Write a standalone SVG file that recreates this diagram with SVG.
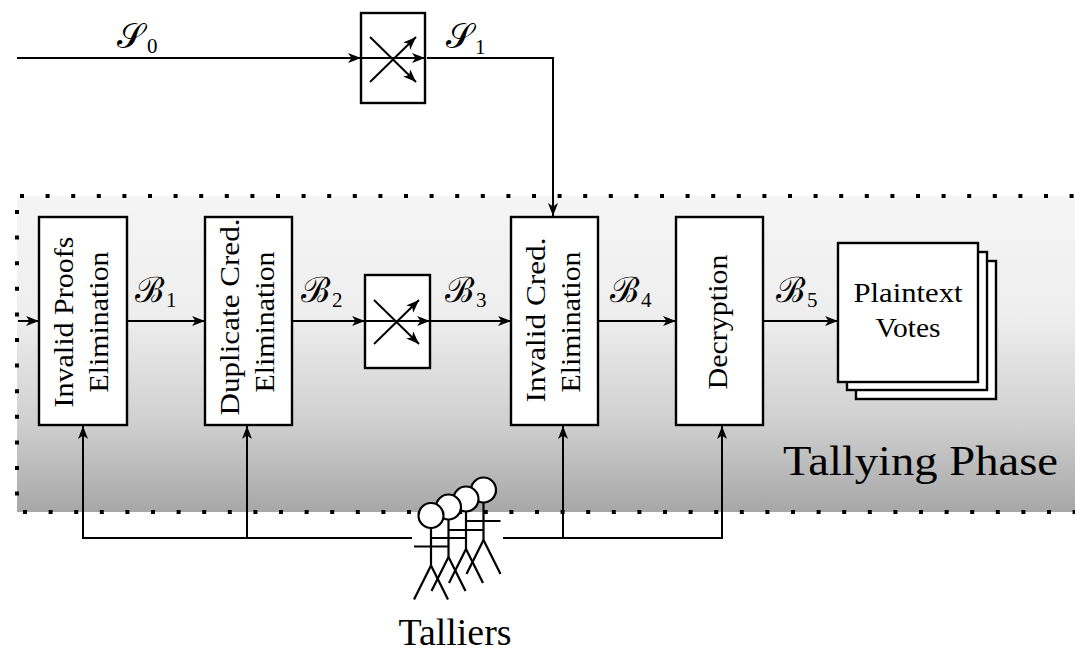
<svg xmlns="http://www.w3.org/2000/svg" width="1075" height="651" viewBox="0 0 1075 651">
  <defs>
    <linearGradient id="phaseShade" x1="0" y1="0" x2="0" y2="1">
      <stop offset="0" stop-color="#f5f5f5"/>
      <stop offset="0.38" stop-color="#eeeeee"/>
      <stop offset="0.72" stop-color="#cfcfcf"/>
      <stop offset="1" stop-color="#a7a7a7"/>
    </linearGradient>
    <marker id="arr" markerUnits="userSpaceOnUse" markerWidth="16" markerHeight="12" refX="13" refY="5" orient="auto">
      <path d="M0,0 L13,5 L0,10 L3.5,5 Z" fill="#000"/>
    </marker>
    <g id="talker">
      <line x1="0" y1="12" x2="0" y2="50"/>
      <line x1="-17" y1="31" x2="17" y2="31"/>
      <line x1="0" y1="50" x2="-17" y2="84"/>
      <line x1="0" y1="50" x2="17" y2="84"/>
      <circle cx="0" cy="0" r="12.5" fill="#fff"/>
    </g>
  </defs>
  <style>
    .box { fill: #fff; stroke: #000; stroke-width: 2.4; }
    .wire { fill: none; stroke: #000; stroke-width: 2; }
    .dots { stroke: #000; stroke-width: 4; stroke-dasharray: 4 21.6; fill: none; }
    .lbl { font-family: "Liberation Serif", "Times New Roman", serif; font-size: 28px; fill: #000; }
    .math { font-family: "DejaVu Serif", "Liberation Serif", serif; font-size: 35px; font-style: normal; fill: #000; }
    .sub { font-family: "Liberation Serif", serif; font-size: 21px; fill: #000; }
    .people { stroke: #000; stroke-width: 2.2; fill: none; }
  </style>

  <!-- tallying phase backdrop -->
  <g id="tallying-phase">
    <rect x="17" y="196" width="1058" height="316" fill="url(#phaseShade)"/>
    <line class="dots" x1="20" y1="196" x2="1075" y2="196"/>
    <line class="dots" x1="17" y1="210" x2="17" y2="500"/>
    <line class="dots" x1="23" y1="512" x2="1075" y2="512"/>
    <text x="1058" y="475" text-anchor="end" textLength="275" lengthAdjust="spacingAndGlyphs" style="font-family:'Liberation Serif',serif;font-size:42px;fill:#000">Tallying Phase</text>
  </g>

  <!-- connectors -->
  <g id="connectors">
    <line class="wire" x1="17" y1="58" x2="361" y2="58" marker-end="url(#arr)"/>
    <polyline class="wire" points="427,58 553,58 553,216" marker-end="url(#arr)"/>
    <line class="wire" x1="18" y1="321" x2="39" y2="321" marker-end="url(#arr)"/>
    <line class="wire" x1="127" y1="321" x2="205" y2="321" marker-end="url(#arr)"/>
    <line class="wire" x1="292" y1="321" x2="365" y2="321" marker-end="url(#arr)"/>
    <line class="wire" x1="431" y1="321" x2="511" y2="321" marker-end="url(#arr)"/>
    <line class="wire" x1="598" y1="321" x2="676" y2="321" marker-end="url(#arr)"/>
    <line class="wire" x1="763" y1="321" x2="838" y2="321" marker-end="url(#arr)"/>
    <polyline class="wire" points="412,538 83,538 83,426" marker-end="url(#arr)"/>
    <line class="wire" x1="247" y1="538" x2="247" y2="426" marker-end="url(#arr)"/>
    <polyline class="wire" points="503,538 722,538 722,426" marker-end="url(#arr)"/>
    <line class="wire" x1="563" y1="538" x2="563" y2="426" marker-end="url(#arr)"/>
  </g>

  <!-- flow labels -->
  <g id="flow-labels">
    <text class="math" x="117" y="48">𝒮</text><text class="sub" x="147" y="53">0</text>
    <text class="math" x="446" y="48">𝒮</text><text class="sub" x="475" y="54">1</text>
    <text class="math" x="135" y="302">ℬ</text><text class="sub" x="166" y="307">1</text>
    <text class="math" x="301" y="302">ℬ</text><text class="sub" x="332" y="307">2</text>
    <text class="math" x="445" y="302">ℬ</text><text class="sub" x="476" y="307">3</text>
    <text class="math" x="610" y="302">ℬ</text><text class="sub" x="641" y="307">4</text>
    <text class="math" x="776" y="302">ℬ</text><text class="sub" x="807" y="307">5</text>
  </g>

  <!-- shuffle on the credential list -->
  <g id="mix-credentials">
    <rect class="box" x="361" y="13" width="64" height="90"/>
    <line class="wire" x1="361" y1="58" x2="425" y2="58" marker-end="url(#arr)"/>
    <line class="wire" x1="370" y1="37" x2="416" y2="82" marker-end="url(#arr)"/>
    <line class="wire" x1="370" y1="82" x2="416" y2="37" marker-end="url(#arr)"/>
  </g>

  <g id="invalid-proofs">
    <rect class="box" x="39" y="217" width="88" height="208"/>
    <text class="lbl" transform="translate(73,322) rotate(-90)" text-anchor="middle" textLength="171" lengthAdjust="spacingAndGlyphs">Invalid Proofs</text>
    <text class="lbl" transform="translate(108,322) rotate(-90)" text-anchor="middle" textLength="141" lengthAdjust="spacingAndGlyphs">Elimination</text>
  </g>

  <g id="duplicate-cred">
    <rect class="box" x="205" y="217" width="87" height="208"/>
    <text class="lbl" transform="translate(239,317) rotate(-90)" text-anchor="middle" textLength="197" lengthAdjust="spacingAndGlyphs">Duplicate Cred.</text>
    <text class="lbl" transform="translate(274,322) rotate(-90)" text-anchor="middle" textLength="141" lengthAdjust="spacingAndGlyphs">Elimination</text>
  </g>

  <!-- shuffle on the ballot list -->
  <g id="mix-ballots">
    <rect class="box" x="365" y="275" width="65" height="93"/>
    <line class="wire" x1="365" y1="321" x2="430" y2="321" marker-end="url(#arr)"/>
    <line class="wire" x1="374" y1="300" x2="419" y2="344" marker-end="url(#arr)"/>
    <line class="wire" x1="374" y1="344" x2="419" y2="300" marker-end="url(#arr)"/>
  </g>

  <g id="invalid-cred">
    <rect class="box" x="511" y="217" width="87" height="208"/>
    <text class="lbl" transform="translate(545,320) rotate(-90)" text-anchor="middle" textLength="165" lengthAdjust="spacingAndGlyphs">Invalid Cred.</text>
    <text class="lbl" transform="translate(580,322) rotate(-90)" text-anchor="middle" textLength="141" lengthAdjust="spacingAndGlyphs">Elimination</text>
  </g>

  <g id="decryption">
    <rect class="box" x="676" y="217" width="87" height="208"/>
    <text class="lbl" transform="translate(727,322) rotate(-90)" text-anchor="middle" textLength="135" lengthAdjust="spacingAndGlyphs">Decryption</text>
  </g>

  <g id="plaintext-votes">
    <rect class="box" x="856" y="261" width="140" height="138"/>
    <rect class="box" x="847" y="252" width="140" height="138"/>
    <rect class="box" x="838" y="243" width="140" height="139"/>
    <text class="lbl" x="908" y="302" text-anchor="middle" textLength="109" lengthAdjust="spacingAndGlyphs">Plaintext</text>
    <text class="lbl" x="908" y="337" text-anchor="middle" textLength="65" lengthAdjust="spacingAndGlyphs">Votes</text>
  </g>

  <g id="talliers">
    <g class="people">
      <use href="#talker" x="483.5" y="490"/>
      <use href="#talker" x="466" y="499"/>
      <use href="#talker" x="448.5" y="507"/>
      <use href="#talker" x="431" y="515.5"/>
    </g>
    <text x="455" y="645" text-anchor="middle" textLength="113" lengthAdjust="spacingAndGlyphs" style="font-family:'Liberation Serif',serif;font-size:37px;fill:#000">Talliers</text>
  </g>
</svg>
